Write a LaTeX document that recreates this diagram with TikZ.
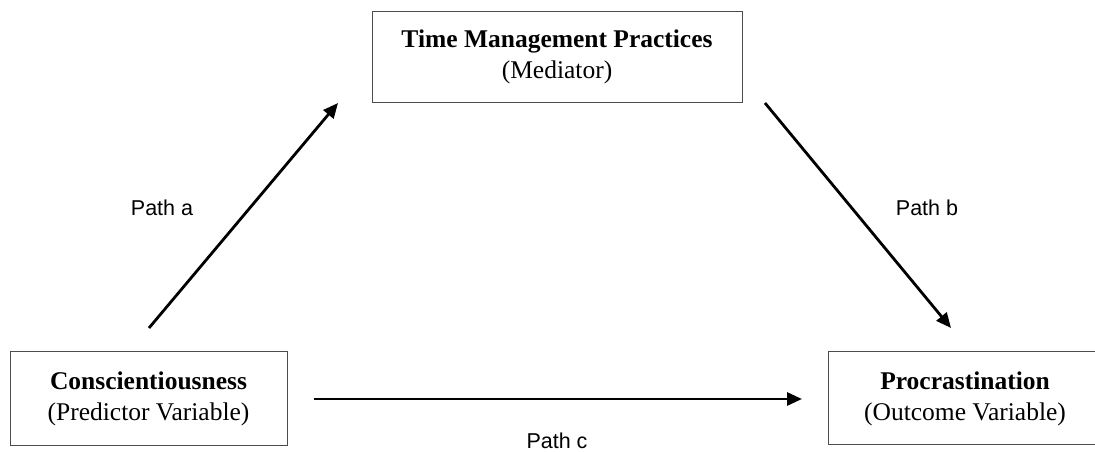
\documentclass[tikz,border=0pt]{standalone}
\usepackage{fontspec}
\setmainfont{Liberation Serif}
\newfontfamily\pathfont{Liberation Sans}
\usetikzlibrary{arrows.meta,positioning}

\begin{document}
\begin{tikzpicture}[
  x=1pt, y=1pt,
  var/.style={draw=black!70, line width=1pt, align=center, inner sep=0pt,
    minimum height=91pt, font=\fontsize{25.5}{31}\selectfont},
  pathlabel/.style={font=\pathfont\fontsize{21.5}{24}\selectfont},
  effect/.style={-{Triangle[length=15pt,width=13pt]}, line width=2.8pt}
]
\clip (0,0) rectangle (1095,452);

\node[var, minimum width=370pt] (med) at (557,395)
  {\textbf{Time Management Practices}\\(Mediator)};
\node[var, minimum width=277pt, minimum height=94pt] (pred) at (148.5,53)
  {\textbf{Conscientiousness}\\(Predictor Variable)};
\node[var, minimum width=274pt, minimum height=93pt] (out) at (965,53.5)
  {\textbf{Procrastination}\\(Outcome Variable)};

\coordinate (a0) at (149,124);
\coordinate (a1) at (338,349);
\coordinate (b0) at (765,349);
\coordinate (b1) at (951,124);
\coordinate (c0) at (314,53);
\coordinate (c1) at (802,53);

\draw[effect] (a0) -- (a1);
\draw[effect] (b0) -- (b1);
\draw[effect] (c0) -- (c1);

\node[pathlabel] (pa) at (162,244) {Path a};
\node[pathlabel] (pb) at (927,244) {Path b};
\node[pathlabel] (pc) at (557,11) {Path c};

\end{tikzpicture}
\end{document}
